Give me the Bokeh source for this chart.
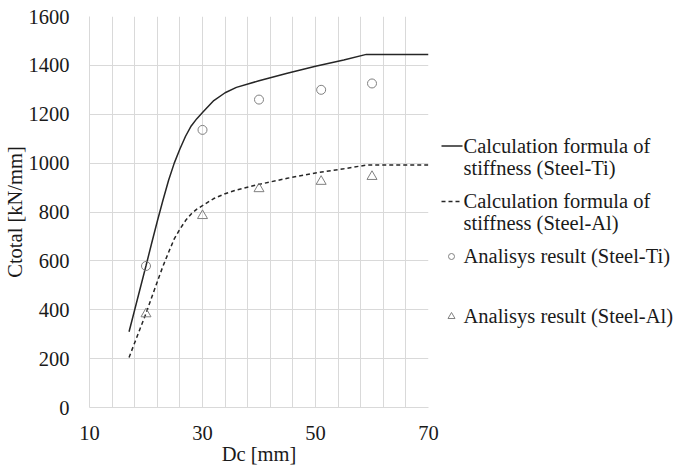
from bokeh.plotting import figure
from bokeh.layouts import row
from bokeh.models import Range1d, FixedTicker
from bokeh.core.properties import value
from bokeh.embed import file_html
from bokeh.resources import INLINE

# ---- data ----
x_formula = [17, 18, 19, 20, 21, 22, 23, 24, 25, 26, 27, 28, 29, 30, 32, 34, 36, 40, 45, 50, 55, 59, 70]
ti_formula = [310, 400, 490, 580, 672, 762, 848, 930, 1000, 1058, 1110, 1152, 1182, 1207, 1256, 1288, 1310,
              1337, 1368, 1396, 1422, 1445, 1445]
al_formula = [205, 265, 325, 385, 450, 515, 578, 635, 690, 730, 765, 792, 812, 826, 855, 875, 890,
              913, 938, 960, 977, 992, 992]
x_result = [20, 30, 40, 51, 60]
ti_result = [579, 1136, 1260, 1300, 1326]
al_result = [383, 785, 895, 925, 945]

x_ticks = [10, 30, 50, 70]
x_grid = list(range(10, 71, 4))
y_ticks = list(range(0, 1601, 200))

legend_text = [
    ["Calculation formula of", "stiffness (Steel-Ti)"],
    ["Calculation formula of", "stiffness (Steel-Al)"],
    ["Analisys result (Steel-Ti)"],
    ["Analisys result (Steel-Al)"],
]

FONT = "Liberation Serif"
FS = "20.5px"
TEXT_COLOR = "#1a1a1a"
LINE_COLOR = "#262626"
MARK_COLOR = "#808080"
GRID_COLOR = "#d9d9d9"

# ---- main chart ----
PW, H = 440, 472
F_TOP, F_BOTTOM = 16, 407
p = figure(width=PW, height=H, x_range=Range1d(10, 70), y_range=Range1d(0, 1600),
           output_backend="svg", toolbar_location=None, title=None,
           min_border_left=88, min_border_right=PW - 428, min_border_top=F_TOP,
           min_border_bottom=H - F_BOTTOM)
p.outline_line_color = None

p.xaxis.ticker = FixedTicker(ticks=x_ticks)
p.yaxis.ticker = FixedTicker(ticks=y_ticks)
p.xgrid.ticker = FixedTicker(ticks=x_grid)
p.ygrid.ticker = FixedTicker(ticks=y_ticks)
for g in (p.xgrid, p.ygrid):
    g.grid_line_color = GRID_COLOR
    g.grid_line_width = 1

for ax in (p.xaxis, p.yaxis):
    ax.axis_line_color = GRID_COLOR
    ax.major_tick_line_color = None
    ax.minor_tick_line_color = None
    ax.major_label_text_font = FONT
    ax.major_label_text_font_size = FS
    ax.major_label_text_color = TEXT_COLOR
    ax.axis_label_text_font = FONT
    ax.axis_label_text_font_size = FS
    ax.axis_label_text_font_style = "normal"
    ax.axis_label_text_color = TEXT_COLOR

p.xaxis.axis_label = "Dc [mm]"
p.yaxis.axis_label = "Ctotal [kN/mm]"
p.xaxis.major_label_standoff = 12
p.yaxis.major_label_standoff = 14
p.xaxis.axis_label_standoff = 0
p.yaxis.axis_label_standoff = 0

p.line(x_formula, ti_formula, line_color=LINE_COLOR, line_width=1.5)
p.line(x_formula, al_formula, line_color=LINE_COLOR, line_width=1.5, line_dash="4 3")
p.scatter(x_result, ti_result, marker="circle", size=9, fill_color=None, line_color=MARK_COLOR, line_width=1)
p.scatter(x_result, al_result, marker="triangle", size=10, fill_color=None, line_color=MARK_COLOR, line_width=1)

# ---- legend panel: its frame spans the same rows as the chart frame, ranges in page pixels ----
LX0, LX1 = PW, 682
lg = figure(width=LX1 - LX0, height=H, x_range=Range1d(LX0, LX1), y_range=Range1d(F_BOTTOM, F_TOP),
            output_backend="svg", toolbar_location=None, title=None,
            min_border_left=0, min_border_right=0, min_border_top=F_TOP, min_border_bottom=H - F_BOTTOM,
            x_axis_location=None, y_axis_location=None)
lg.outline_line_color = None
lg.grid.visible = False

TX = 463
baselines = [[145, 167.5], [200, 222.5], [255.5], [315]]
tx, ty, tt = [], [], []
for lines, bls in zip(legend_text, baselines):
    for t, b in zip(lines, bls):
        tx.append(TX)
        ty.append(b)
        tt.append(t)
lg.text(x=tx, y=ty, text=tt, text_font=value(FONT), text_font_size=value(FS),
        text_color=TEXT_COLOR, text_baseline=value("alphabetic"), text_align=value("left"))

lg.line([441, 462], [145.5, 145.5], line_color=LINE_COLOR, line_width=1.5)
lg.line([441, 462], [201, 201], line_color=LINE_COLOR, line_width=1.5, line_dash="4 3")
lg.scatter([451], [256], marker="circle", size=6, fill_color=None, line_color=MARK_COLOR, line_width=1)
lg.scatter([451], [316], marker="triangle", size=7, fill_color=None, line_color=MARK_COLOR, line_width=1)

layout = row(p, lg, spacing=0)
open("out.html", "w").write(file_html(layout, INLINE))
